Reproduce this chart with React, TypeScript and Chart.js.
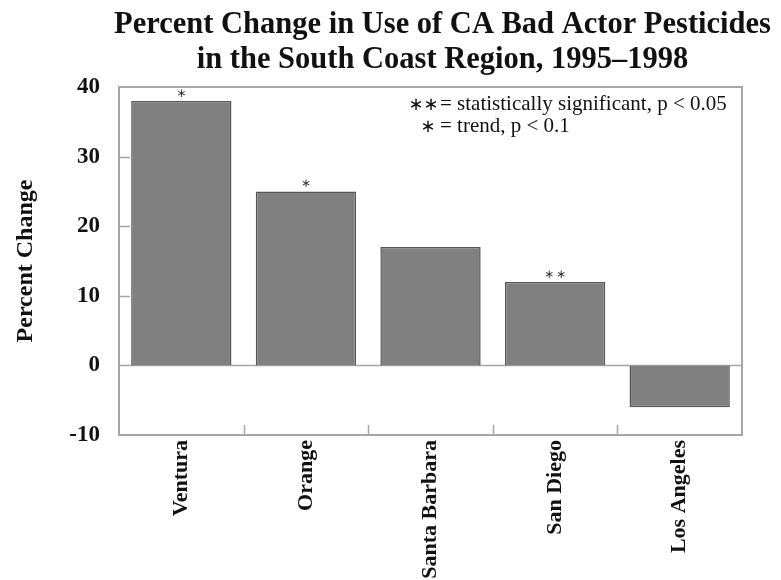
import React, { useEffect, useRef } from "react";
import { Chart, registerables } from "chart.js";

Chart.register(...registerables);

const categories = ["Ventura", "Orange", "Santa Barbara", "San Diego", "Los Angeles"];
const percentChange = [38, 25, 17, 12, -6];
const significance = ["*", "*", "", "**", ""];
const yMin = -10;
const yMax = 40;
const yStep = 10;
const titleLines = [
  "Percent Change in Use of CA Bad Actor Pesticides",
  "in the South Coast Region, 1995\u20131998",
];
const yAxisTitle = "Percent Change";
const legendMarks = ["**", "*"];
const legendTexts = ["= statistically significant, p < 0.05", "= trend, p < 0.1"];

const SERIF = "'Liberation Serif', 'Times New Roman', serif";
const INK = "#111111";
const FRAME = "#a6a6a6";

function drawStar(ctx: CanvasRenderingContext2D, cx: number, cy: number, size: number) {
  ctx.save();
  ctx.font = `${size}px 'DejaVu Sans', sans-serif`;
  ctx.textAlign = "center";
  ctx.textBaseline = "alphabetic";
  const m = ctx.measureText("\u2217");
  const base = cy + (m.actualBoundingBoxAscent - m.actualBoundingBoxDescent) / 2;
  ctx.fillText("\u2217", cx, base);
  ctx.restore();
}

const framePlugin = {
  id: "framePlugin",
  beforeDatasetsDraw(chart: any) {
    const { ctx, chartArea: a, scales } = chart;
    const y = scales.y;
    const x = scales.x;
    ctx.save();
    ctx.strokeStyle = FRAME;
    ctx.lineWidth = 1.5;
    for (let v = yMin + yStep; v < yMax; v += yStep) {
      if (v === 0) continue;
      const py = Math.round(y.getPixelForValue(v)) + 0.5;
      ctx.beginPath();
      ctx.moveTo(a.left, py);
      ctx.lineTo(a.left + 11, py);
      ctx.stroke();
    }
    for (let i = 0; i < categories.length - 1; i++) {
      const px = Math.round((x.getPixelForValue(i) + x.getPixelForValue(i + 1)) / 2) + 0.5;
      ctx.beginPath();
      ctx.moveTo(px, a.bottom);
      ctx.lineTo(px, a.bottom - 10);
      ctx.stroke();
    }
    const zy = Math.round(y.getPixelForValue(0)) + 0.5;
    ctx.beginPath();
    ctx.moveTo(a.left, zy);
    ctx.lineTo(a.right, zy);
    ctx.stroke();
    ctx.restore();
  },
  afterDatasetsDraw(chart: any) {
    const { ctx, chartArea: a, scales } = chart;
    const y = scales.y;
    const x = scales.x;
    ctx.save();
    ctx.strokeStyle = FRAME;
    ctx.lineWidth = 2;
    ctx.strokeRect(a.left, a.top, a.right - a.left, a.bottom - a.top);

    // title
    ctx.fillStyle = INK;
    ctx.font = `bold 30.5px ${SERIF}`;
    ctx.textAlign = "center";
    ctx.textBaseline = "alphabetic";
    const tx = (a.left + a.right) / 2 + 12;
    titleLines.forEach((t, i) => ctx.fillText(t, tx, 33 + i * 35));

    // significance marks above bars
    ctx.fillStyle = "#333";
    significance.forEach((s, i) => {
      if (!s) return;
      const top = y.getPixelForValue(Math.max(percentChange[i], 0));
      const cx = x.getPixelForValue(i);
      const n = s.length;
      for (let k = 0; k < n; k++) {
        drawStar(ctx, cx + (k - (n - 1) / 2) * 12, top - 8, 12);
      }
    });

    // legend text
    ctx.fillStyle = INK;
    ctx.font = `21px ${SERIF}`;
    ctx.textAlign = "left";
    const eqX = a.left + 321;
    const baselines = [a.top + 23, a.top + 45];
    legendTexts.forEach((t, i) => {
      ctx.fillText(t, eqX, baselines[i]);
      const n = legendMarks[i].length;
      const centers = n === 2 ? [eqX - 24, eqX - 9] : [eqX - 12];
      centers.forEach((c) => drawStar(ctx, c, baselines[i] - 6, 18));
    });
    ctx.restore();
  },
};

export default function App() {
  const canvasRef = useRef<HTMLCanvasElement | null>(null);

  useEffect(() => {
    document.body.style.margin = "0";
    const canvas = canvasRef.current;
    if (!canvas) return;
    const chart = new Chart(canvas, {
      type: "bar",
      data: {
        labels: categories,
        datasets: [
          {
            data: percentChange,
            backgroundColor: "#808080",
            borderColor: "#555555",
            borderWidth: 1.5,
            categoryPercentage: 1,
            barPercentage: 0.805,
          },
        ],
      },
      plugins: [framePlugin],
      options: {
        responsive: false,
        animation: false,
        layout: { padding: { left: 0, right: 39, top: 87, bottom: 0 } },
        plugins: {
          legend: { display: false },
          tooltip: { enabled: false },
          title: { display: false },
        },
        scales: {
          x: {
            grid: { display: false, drawTicks: false },
            border: { display: false },
            ticks: {
              autoSkip: false,
              minRotation: 90,
              maxRotation: 90,
              padding: 5,
              color: INK,
              font: { family: SERIF, size: 22, weight: "bold" },
            },
            afterFit: (s: any) => {
              s.height = 145;
            },
          },
          y: {
            min: yMin,
            max: yMax,
            grid: { display: false, drawTicks: false },
            border: { display: false },
            ticks: {
              stepSize: yStep,
              padding: 19,
              color: INK,
              font: { family: SERIF, size: 23, weight: "bold" },
            },
            title: {
              display: true,
              text: yAxisTitle,
              color: INK,
              font: { family: SERIF, size: 24, weight: "bold" },
              padding: { top: 11, bottom: 0 },
            },
            afterFit: (s: any) => {
              s.width = 119;
            },
          },
        },
      },
    });
    return () => chart.destroy();
  }, []);

  return (
    <div style={{ width: 781, height: 580, background: "#fff" }}>
      <canvas ref={canvasRef} width={781} height={580} />
    </div>
  );
}
